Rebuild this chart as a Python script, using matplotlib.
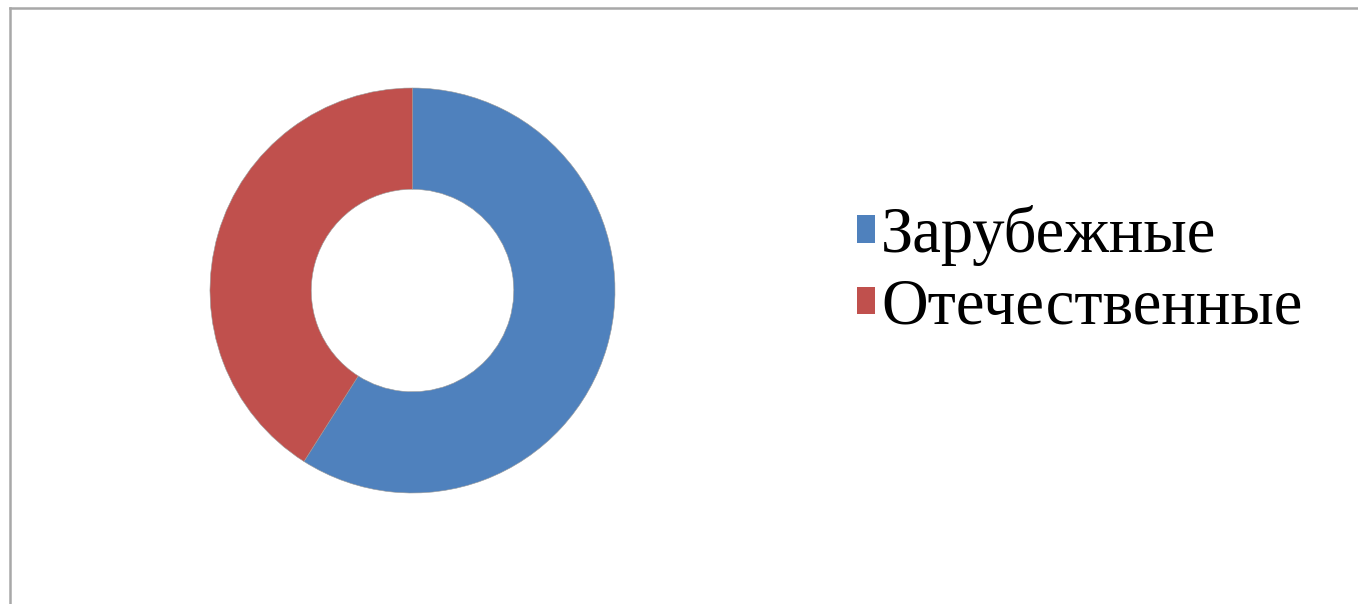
import matplotlib
matplotlib.use("Agg")
import matplotlib.pyplot as plt
from matplotlib.lines import Line2D
from matplotlib import font_manager

categories = ["Зарубежные", "Отечественные"]
values = [59, 41]
colors = ["#4F81BD", "#C0504D"]

serif_path = font_manager.findfont(font_manager.FontProperties(family="Liberation Serif"))
legend_font = font_manager.FontProperties(fname=serif_path, size=46.5)

W, H = 1358, 604
fig = plt.figure(figsize=(W / 100, H / 100), dpi=100)
fig.patch.set_facecolor("white")

cx, cy, r = 412.5, 290.5, 202.5
ax = fig.add_axes([(cx - r) / W, (H - cy - r) / H, 2 * r / W, 2 * r / H])
wedges, _ = ax.pie(values, colors=colors, startangle=90, counterclock=False,
                   radius=1.0,
                   wedgeprops=dict(width=0.5, edgecolor="#9a9a9a", linewidth=0.4))
ax.set_xlim(-1.0, 1.0)
ax.set_ylim(-1.0, 1.0)
ax.set_aspect("equal")
ax.axis("off")

leg = fig.legend(wedges, categories, loc="upper left",
                 bbox_to_anchor=(857 / W, 1 - 205 / H),
                 frameon=False,
                 prop=legend_font,
                 handlelength=0.28, handleheight=0.28, handletextpad=0.09,
                 labelspacing=0.19, borderpad=0, borderaxespad=0)
for t in leg.get_texts():
    t.set_fontproperties(legend_font)
for h in leg.legend_handles:
    h.set_edgecolor("none")

# frame lines (top and left)
fig.add_artist(Line2D([10 / W, 1.0], [1 - 8 / H, 1 - 8 / H], transform=fig.transFigure,
                      color="#a8a8a8", linewidth=1.8))
fig.add_artist(Line2D([10 / W, 10 / W], [0, 1 - 8 / H], transform=fig.transFigure,
                      color="#a8a8a8", linewidth=1.8))

fig.savefig("out.png", dpi=100, facecolor="white")
